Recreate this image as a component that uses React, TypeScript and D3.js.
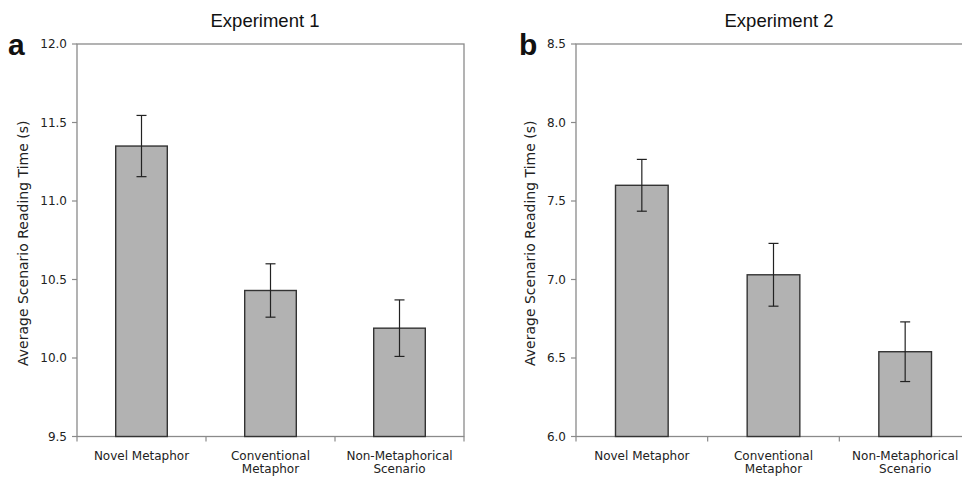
import React from "react";
import * as d3 from "d3";

const categories: string[][] = [["Novel Metaphor"], ["Conventional", "Metaphor"], ["Non-Metaphorical", "Scenario"]];
const exp1Means = [11.35, 10.43, 10.19];
const exp1Errors = [0.195, 0.17, 0.18];
const exp2Means = [7.6, 7.03, 6.54];
const exp2Errors = [0.165, 0.2, 0.19];
const exp1Ticks = [9.5, 10.0, 10.5, 11.0, 11.5, 12.0];
const exp2Ticks = [6.0, 6.5, 7.0, 7.5, 8.0, 8.5];
const titles = ["Experiment 1", "Experiment 2"];
const letters = ["a", "b"];
const yLabel = "Average Scenario Reading Time (s)";

const AXIS = "#8a8a8a";
const BAR = "#b2b2b2";
const BAR_STROKE = "#333";
const TICK_FONT = "'DejaVu Sans', Verdana, sans-serif";

type PanelProps = {
  left: number; right: number; top: number; bottom: number;
  domain: [number, number]; ticks: number[]; means: number[]; errors: number[];
  title: string; letter: string; letterX: number; labelX: number; titleX: number;
};

function Panel(p: PanelProps) {
  const y = d3.scaleLinear().domain(p.domain).range([p.bottom, p.top]);
  const x = d3.scaleBand<number>().domain(d3.range(categories.length)).range([p.left, p.right]).padding(0);
  const bw = x.bandwidth() * 0.4;
  const midY = (p.top + p.bottom) / 2;
  return (
    <g>
      <text x={p.titleX} y={27} textAnchor="middle" fontFamily="'Liberation Sans', Arial, sans-serif" fontSize={18.5} fill="#111">{p.title}</text>
      <text x={p.letterX} y={55} fontFamily="'Liberation Sans', Arial, sans-serif" fontWeight="bold" fontSize={30} fill="#111">{p.letter}</text>
      <text transform={`translate(${p.labelX},${midY + 3}) rotate(-90)`} textAnchor="middle" fontFamily={TICK_FONT} fontSize={14} fill="#222">{yLabel}</text>
      {/* frame */}
      <rect x={p.left} y={p.top} width={p.right - p.left} height={p.bottom - p.top} fill="none" stroke={AXIS} strokeWidth={1.3} />
      {/* y ticks */}
      {p.ticks.map((t) => (
        <g key={t}>
          <line x1={p.left - 5} x2={p.left} y1={y(t)} y2={y(t)} stroke={AXIS} strokeWidth={1.2} />
          <text x={p.left - 10} y={y(t)} dy="0.35em" textAnchor="end" fontFamily={TICK_FONT} fontSize={12} fill="#222">{d3.format(".1f")(t)}</text>
        </g>
      ))}
      {/* x ticks at band boundaries */}
      {d3.range(categories.length + 1).map((i) => {
        const xx = p.left + i * x.step();
        return <line key={i} x1={xx} x2={xx} y1={p.bottom} y2={p.bottom + 5} stroke={AXIS} strokeWidth={1.2} />;
      })}
      {/* bars */}
      {p.means.map((m, i) => {
        const cx = (x(i) as number) + x.bandwidth() / 2;
        return (
          <g key={i}>
            <rect x={cx - bw / 2} y={y(m)} width={bw} height={p.bottom - y(m)} fill={BAR} stroke={BAR_STROKE} strokeWidth={1.4} />
            <line x1={cx} x2={cx} y1={y(m + p.errors[i])} y2={y(m - p.errors[i])} stroke="#222" strokeWidth={1.2} />
            <line x1={cx - 5} x2={cx + 5} y1={y(m + p.errors[i])} y2={y(m + p.errors[i])} stroke="#222" strokeWidth={1.2} />
            <line x1={cx - 5} x2={cx + 5} y1={y(m - p.errors[i])} y2={y(m - p.errors[i])} stroke="#222" strokeWidth={1.2} />
          </g>
        );
      })}
      {/* category labels */}
      {categories.map((lines, i) => {
        const cx = (x(i) as number) + x.bandwidth() / 2;
        return (
          <text key={i} x={cx} y={460} textAnchor="middle" fontFamily={TICK_FONT} fontSize={12} fill="#222">
            {lines.map((l, j) => (
              <tspan key={j} x={cx} dy={j === 0 ? 0 : 13}>{l}</tspan>
            ))}
          </text>
        );
      })}
    </g>
  );
}

export default function App() {
  return (
    <svg width={962} height={478} style={{ position: "absolute", left: 0, top: 0, background: "#fff" }}>
      <rect width={962} height={478} fill="#fff" />
      <Panel left={77} right={464} top={44} bottom={436.5} domain={[9.5, 12]} ticks={exp1Ticks}
        means={exp1Means} errors={exp1Errors} title={titles[0]} letter={letters[0]}
        letterX={8} labelX={28} titleX={265} />
      <Panel left={576} right={971} top={44} bottom={436.5} domain={[6, 8.5]} ticks={exp2Ticks}
        means={exp2Means} errors={exp2Errors} title={titles[1]} letter={letters[1]}
        letterX={519} labelX={535} titleX={779} />
    </svg>
  );
}
